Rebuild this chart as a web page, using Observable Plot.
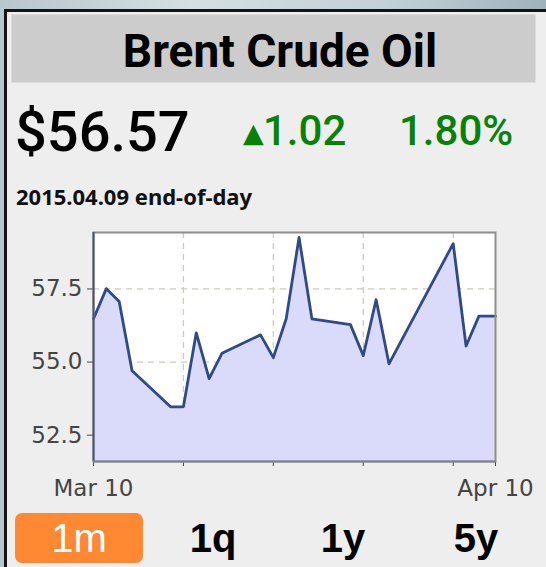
<!DOCTYPE html>
<html>
<head>
<meta charset="utf-8">
<script src="https://cdn.jsdelivr.net/npm/d3@7"></script>
<script src="https://cdn.jsdelivr.net/npm/@observablehq/plot@0.6"></script>
<style>
  html, body { margin: 0; padding: 0; width: 546px; height: 567px; overflow: hidden; }
  body { position: relative; background: linear-gradient(90deg, #b7c7cd 0%, #d3dfe3 35%, #c2d2d8 70%, #9fb3bb 100%); }
  #panel { position: absolute; left: 4px; top: 9px; width: 620px; height: 620px; background: #eeeeee;
           border-left: 3px solid #141414; border-top: 3px solid #141414; box-sizing: border-box; }
  #titlebar { position: absolute; left: 12px; top: 15px; width: 523px; height: 67px; background: #cccccc;
              box-shadow: 0 0 0 1px #dcdcdc; }
  .abs { position: absolute; white-space: nowrap; line-height: 1; }
  #title { left: 12px; top: 28px; width: 536px; text-align: center; font-family: Roboto, sans-serif;
           font-weight: 700; font-size: 46px; color: #000; }
  #price { left: 15px; top: 104px; font-family: Roboto, sans-serif; font-weight: 500; font-size: 56px; color: #000; }
  #arrow { left: 243px; top: 119px; font-family: "DejaVu Sans", sans-serif; font-size: 27px; color: #078207; }
  #change { left: 263px; top: 110px; font-family: Roboto, sans-serif; font-weight: 500; font-size: 42px; color: #078207; }
  #pct { left: 399px; top: 110px; font-family: Roboto, sans-serif; font-weight: 500; font-size: 42px; color: #078207; }
  #asof { left: 16px; top: 185px; font-family: "Noto Sans", sans-serif; font-weight: 700; font-size: 22px; color: #111; }
  #chartwrap { position: absolute; left: 12px; top: 215px; width: 534px; height: 290px; overflow: visible; }
  #chartwrap svg { overflow: visible; max-width: none; }
  .btn { position: absolute; top: 513px; width: 128px; height: 50px; line-height: 50px; text-align: center;
         font-family: "Liberation Sans", Arial, sans-serif; font-weight: 700; font-size: 40px; color: #000; }
  .btn.active { background: #ff8833; color: #fff; border-radius: 7px; font-weight: 400; }
</style>
</head>
<body>
<div id="panel"></div>
<div id="titlebar"></div>
<div id="chartwrap"></div>
<script>
// ---- data ----
const titleText = "Brent Crude Oil";
const lastPrice = "$56.57";
const changeText = "1.02";
const changePct = "1.80%";
const asOfText = "2015.04.09 end-of-day";
const ranges = ["1m", "1q", "1y", "5y"];
const activeRange = "1m";

const dates = [
  "2015-03-10", "2015-03-11", "2015-03-12", "2015-03-13", "2015-03-16", "2015-03-17",
  "2015-03-18", "2015-03-19", "2015-03-20", "2015-03-23", "2015-03-24", "2015-03-25",
  "2015-03-26", "2015-03-27", "2015-03-30", "2015-03-31", "2015-04-01", "2015-04-02",
  "2015-04-07", "2015-04-08", "2015-04-09", "2015-04-10T07:00Z"
];
const prices = [
  56.48, 57.51, 57.07, 54.70, 53.47, 53.47,
  56.00, 54.43, 55.30, 55.93, 55.15, 56.48,
  59.26, 56.48, 56.28, 55.22, 57.13, 54.94,
  59.05, 55.55, 56.57, 56.57
];
const yDomain = [51.6, 59.43];
const yTicks = [52.5, 55.0, 57.5];
const xTicks = ["2015-03-10", "2015-03-17", "2015-03-24", "2015-03-31", "2015-04-07", "2015-04-10T07:00Z"];
const xTickLabels = ["Mar 10", "", "", "", "", "Apr 10"];
const gridDates = ["2015-03-17", "2015-03-24", "2015-03-31", "2015-04-07"];

// ---- header ----
function addText(id, text) {
  const el = document.createElement("div");
  el.id = id; el.className = "abs"; el.textContent = text;
  document.body.appendChild(el);
}
addText("title", titleText);
addText("price", lastPrice);
addText("arrow", "\u25B2");
addText("change", changeText);
addText("pct", changePct);
addText("asof", asOfText);

// ---- chart ----
const rows = dates.map((d, i) => ({date: new Date(d), price: prices[i]}));
const tickDates = xTicks.map(d => new Date(d));
const labelMap = new Map(tickDates.map((d, i) => [+d, xTickLabels[i]]));
const xDomain = [tickDates[0], tickDates[tickDates.length - 1]];

const chart = Plot.plot({
  width: 521,
  height: 290,
  marginLeft: 81,
  marginRight: 38,
  marginTop: 17,
  marginBottom: 44,
  style: {background: "transparent", fontFamily: "DejaVu Sans", fontSize: "23px", color: "#444", overflow: "visible"},
  x: {type: "utc", domain: xDomain, ticks: tickDates, tickFormat: d => labelMap.get(+d) ?? "",
      tickSize: 5, tickPadding: 13, label: null},
  y: {domain: yDomain, ticks: yTicks, tickFormat: d3.format(".1f"), tickSize: 6, tickPadding: 5, label: null},
  marks: [
    Plot.frame({fill: "white", stroke: null}),
    Plot.ruleX(gridDates.map(d => new Date(d)), {stroke: "#cbcbbf", strokeWidth: 1.3, strokeDasharray: "6,5"}),
    Plot.ruleY(yTicks, {stroke: "#cbcbbf", strokeWidth: 1.3, strokeDasharray: "6,5"}),
    Plot.areaY(rows, {x: "date", y1: () => yDomain[0], y2: "price", fill: "#dadafa"}),
    Plot.line(rows, {x: "date", y: "price", stroke: "#2f4a84", strokeWidth: 2.8}),
    Plot.frame({stroke: "#8e8e8e", strokeWidth: 2}),
    Plot.ruleX([xDomain[0]], {stroke: "#4c5470", strokeWidth: 2}),
    Plot.ruleY([yDomain[0]], {stroke: "#7d8096", strokeWidth: 2})
  ]
});
document.getElementById("chartwrap").appendChild(chart);

// ---- range buttons ----
const btnCenters = [79, 213, 343, 476];
ranges.forEach((r, i) => {
  const b = document.createElement("div");
  b.className = "btn" + (r === activeRange ? " active" : "");
  b.style.left = (btnCenters[i] - 64) + "px";
  b.textContent = r;
  document.body.appendChild(b);
});
</script>
</body>
</html>
